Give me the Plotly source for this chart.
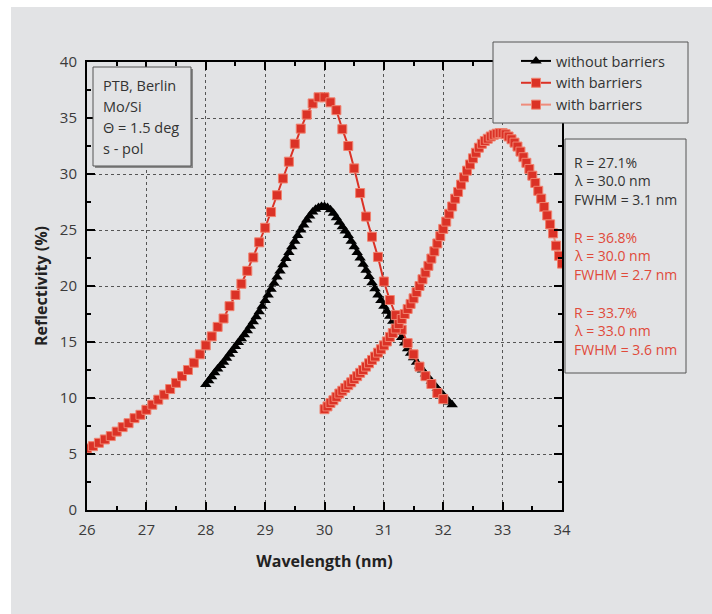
import plotly.graph_objects as go

# ---------------- data ----------------
black_x = [round(28.0 + 0.05 * i, 2) for i in range(84)]
black_y = [11.2, 11.55, 11.9, 12.25, 12.6, 12.9, 13.2, 13.55, 13.9, 14.25,
           14.6, 14.95, 15.3, 15.65, 16.0, 16.4, 16.8, 17.25, 17.7, 18.2,
           18.7, 19.2, 19.7, 20.25, 20.8, 21.35, 21.9, 22.45, 23.0, 23.5,
           24.0, 24.5, 25.0, 25.45, 25.9, 26.25, 26.6, 26.85, 27.0, 27.1,
           27.1, 27.0, 26.8, 26.5, 26.1, 25.7, 25.3, 24.9, 24.5, 24.0,
           23.5, 23.0, 22.5, 21.95, 21.4, 20.85, 20.3, 19.75, 19.2, 18.7,
           18.2, 17.75, 17.3, 16.85, 16.4, 15.9, 15.4, 14.9, 14.4, 14.0,
           13.6, 13.2, 12.85, 12.5, 12.15, 11.8, 11.5, 11.15, 10.85, 10.55,
           10.25, 9.95, 9.65, 9.4]

red1_x = [round(26.0 + 0.1 * i, 1) for i in range(61)]
red1_y = [5.5, 5.7, 6.0, 6.3, 6.6, 7.0, 7.4, 7.75, 8.2, 8.5,
          8.95, 9.4, 9.85, 10.3, 10.8, 11.35, 11.95, 12.5, 13.15, 13.9,
          14.7, 15.5, 16.35, 17.1, 18.2, 19.2, 20.2, 21.35, 22.55, 23.9,
          25.2, 26.6, 28.1, 29.6, 31.1, 32.7, 34.05, 35.3, 36.3, 36.85,
          36.85, 36.4, 35.7, 34.0, 32.5, 30.5, 28.3, 26.2, 24.4, 22.6,
          20.4, 18.75, 17.4, 16.1, 14.9, 13.9, 12.8, 11.95, 11.25, 10.45,
          9.9]

red2_x = [round(30.0 + 0.05 * i, 2) for i in range(81)]
red2_y = [9.0, 9.25, 9.55, 9.8, 10.1, 10.4, 10.65, 10.9, 11.15, 11.4,
          11.7, 11.95, 12.25, 12.5, 12.8, 13.1, 13.4, 13.7, 14.05, 14.35,
          14.7, 15.05, 15.45, 15.8, 16.2, 16.6, 17.05, 17.5, 17.95, 18.4,
          18.9, 19.45, 20.0, 20.6, 21.2, 21.8, 22.45, 23.1, 23.8, 24.45,
          25.1, 25.75, 26.45, 27.1, 27.8, 28.4, 29.05, 29.7, 30.3, 30.85,
          31.4, 31.9, 32.35, 32.7, 32.95, 33.15, 33.35, 33.5, 33.6, 33.65,
          33.65, 33.55, 33.35, 33.1, 32.8, 32.45, 32.0, 31.5, 31.0, 30.45,
          29.85, 29.2, 28.5, 27.8, 27.05, 26.3, 25.5, 24.7, 23.6, 22.7,
          22.0]

series_names = ["without barriers", "with barriers", "with barriers"]
x_ticks = [26, 27, 28, 29, 30, 31, 32, 33, 34]
y_ticks = [0, 5, 10, 15, 20, 25, 30, 35, 40]
info_left = ["PTB, Berlin", "Mo/Si", "\u0398 = 1.5 deg", "s - pol"]
info_right = [["R = 27.1%", "\u03bb = 30.0 nm", "FWHM = 3.1 nm"],
              ["R = 36.8%", "\u03bb = 30.0 nm", "FWHM = 2.7 nm"],
              ["R = 33.7%", "\u03bb = 33.0 nm", "FWHM = 3.6 nm"]]

# ---------------- style ----------------
BG = "#e2e3e5"
RED = "#db3226"
RED_EDGE = "#f0826f"
RED_LIGHT = "#ee8c7c"
TXT_RED = "#e04a3a"
FONT = "Open Sans"

W, H = 712, 614
ML, MR, MT, MB = 87, 150, 62, 104
PW, PH = W - ML - MR, H - MT - MB


def xp(px):
    return (px - ML) / PW


def yp(py):
    return (H - MB - py) / PH


fig = go.Figure()
fig.add_trace(go.Scatter(
    x=black_x, y=black_y, mode="lines+markers", name=series_names[0],
    line=dict(color="black", width=2),
    marker=dict(symbol="triangle-up", size=10, color="black", line=dict(width=0)),
))
fig.add_trace(go.Scatter(
    x=red1_x, y=red1_y, mode="lines+markers", name=series_names[1],
    line=dict(color=RED, width=2),
    marker=dict(symbol="square", size=9, color=RED, line=dict(width=1, color=RED_EDGE)),
))
fig.add_trace(go.Scatter(
    x=red2_x, y=red2_y, mode="lines+markers", name=series_names[2],
    line=dict(color=RED_LIGHT, width=2),
    marker=dict(symbol="square", size=9, color=RED, line=dict(width=1, color=RED_EDGE)),
))

axis_common = dict(
    showline=True, linecolor="black", linewidth=2, mirror="ticks",
    ticks="inside", ticklen=8, tickwidth=2, tickcolor="black",
    showgrid=True, gridcolor="#555555", gridwidth=1, griddash="dot",
    zeroline=False,
    tickfont=dict(family=FONT, size=15, color="#3a3a3a"),
)

fig.update_xaxes(
    range=[26, 34], tickvals=x_ticks, ticktext=[str(v) for v in x_ticks],
    ticklabelstandoff=5,
    minor=dict(ticks="inside", ticklen=4, tickwidth=2, tickcolor="black", dtick=0.5, showgrid=False),
    title=dict(text="<b>Wavelength (nm)</b>", font=dict(family=FONT, size=16, color="#222222"), standoff=18),
    **axis_common,
)
fig.update_yaxes(
    range=[0, 40], tickvals=y_ticks, ticktext=[str(v) for v in y_ticks],
    ticklabelstandoff=5,
    minor=dict(ticks="inside", ticklen=4, tickwidth=2, tickcolor="black", dtick=2.5, showgrid=False),
    title=dict(text="<b>Reflectivity (%)</b>", font=dict(family=FONT, size=16, color="#222222"), standoff=8),
    **axis_common,
)

shapes = [
    # white page strips (top / left)
    dict(type="rect", xref="paper", yref="paper", x0=xp(0), x1=xp(W), y0=yp(0), y1=yp(7),
         fillcolor="white", line=dict(width=0), layer="below"),
    dict(type="rect", xref="paper", yref="paper", x0=xp(0), x1=xp(11), y0=yp(0), y1=yp(H),
         fillcolor="white", line=dict(width=0), layer="below"),
    # legend box
    dict(type="rect", xref="paper", yref="paper", x0=xp(493), x1=xp(688), y0=yp(42), y1=yp(123),
         fillcolor=BG, line=dict(width=1, color="#555555"), layer="above"),
    # left info box shadow and box
    dict(type="rect", xref="paper", yref="paper", x0=xp(95), x1=xp(193), y0=yp(69), y1=yp(168),
         fillcolor="#8a8a8a", line=dict(width=0), layer="above"),
    dict(type="rect", xref="paper", yref="paper", x0=xp(93), x1=xp(191), y0=yp(67), y1=yp(166),
         fillcolor=BG, line=dict(width=1, color="#555555"), layer="above"),
    # right info box
    dict(type="rect", xref="paper", yref="paper", x0=xp(565), x1=xp(686), y0=yp(139), y1=yp(373),
         fillcolor=BG, line=dict(width=1, color="#555555"), layer="above"),
]

annotations = []
for i, t in enumerate(info_left):
    annotations.append(dict(xref="paper", yref="paper", x=xp(101), y=yp(85 + i * 21),
                            xanchor="left", yanchor="middle", text=t, showarrow=False,
                            font=dict(family=FONT, size=14.5, color="#333333")))
group_tops = [162, 237, 312]
group_cols = ["#333333", TXT_RED, TXT_RED]
for g, lines in enumerate(info_right):
    for j, t in enumerate(lines):
        annotations.append(dict(xref="paper", yref="paper", x=xp(572), y=yp(group_tops[g] + j * 18.7),
                                xanchor="left", yanchor="middle", text=t, showarrow=False,
                                font=dict(family=FONT, size=14, color=group_cols[g])))

fig.update_layout(
    width=W, height=H,
    margin=dict(l=ML, r=MR, t=MT, b=MB, autoexpand=False),
    paper_bgcolor=BG, plot_bgcolor=BG,
    showlegend=True,
    legend=dict(x=xp(516), y=yp(45), xanchor="left", yanchor="top",
                bgcolor="rgba(0,0,0,0)", borderwidth=0,
                font=dict(family=FONT, size=14.5, color="#333333"),
                tracegroupgap=0, itemwidth=30),
    shapes=shapes,
    annotations=annotations,
)

fig.write_html("out.html")
